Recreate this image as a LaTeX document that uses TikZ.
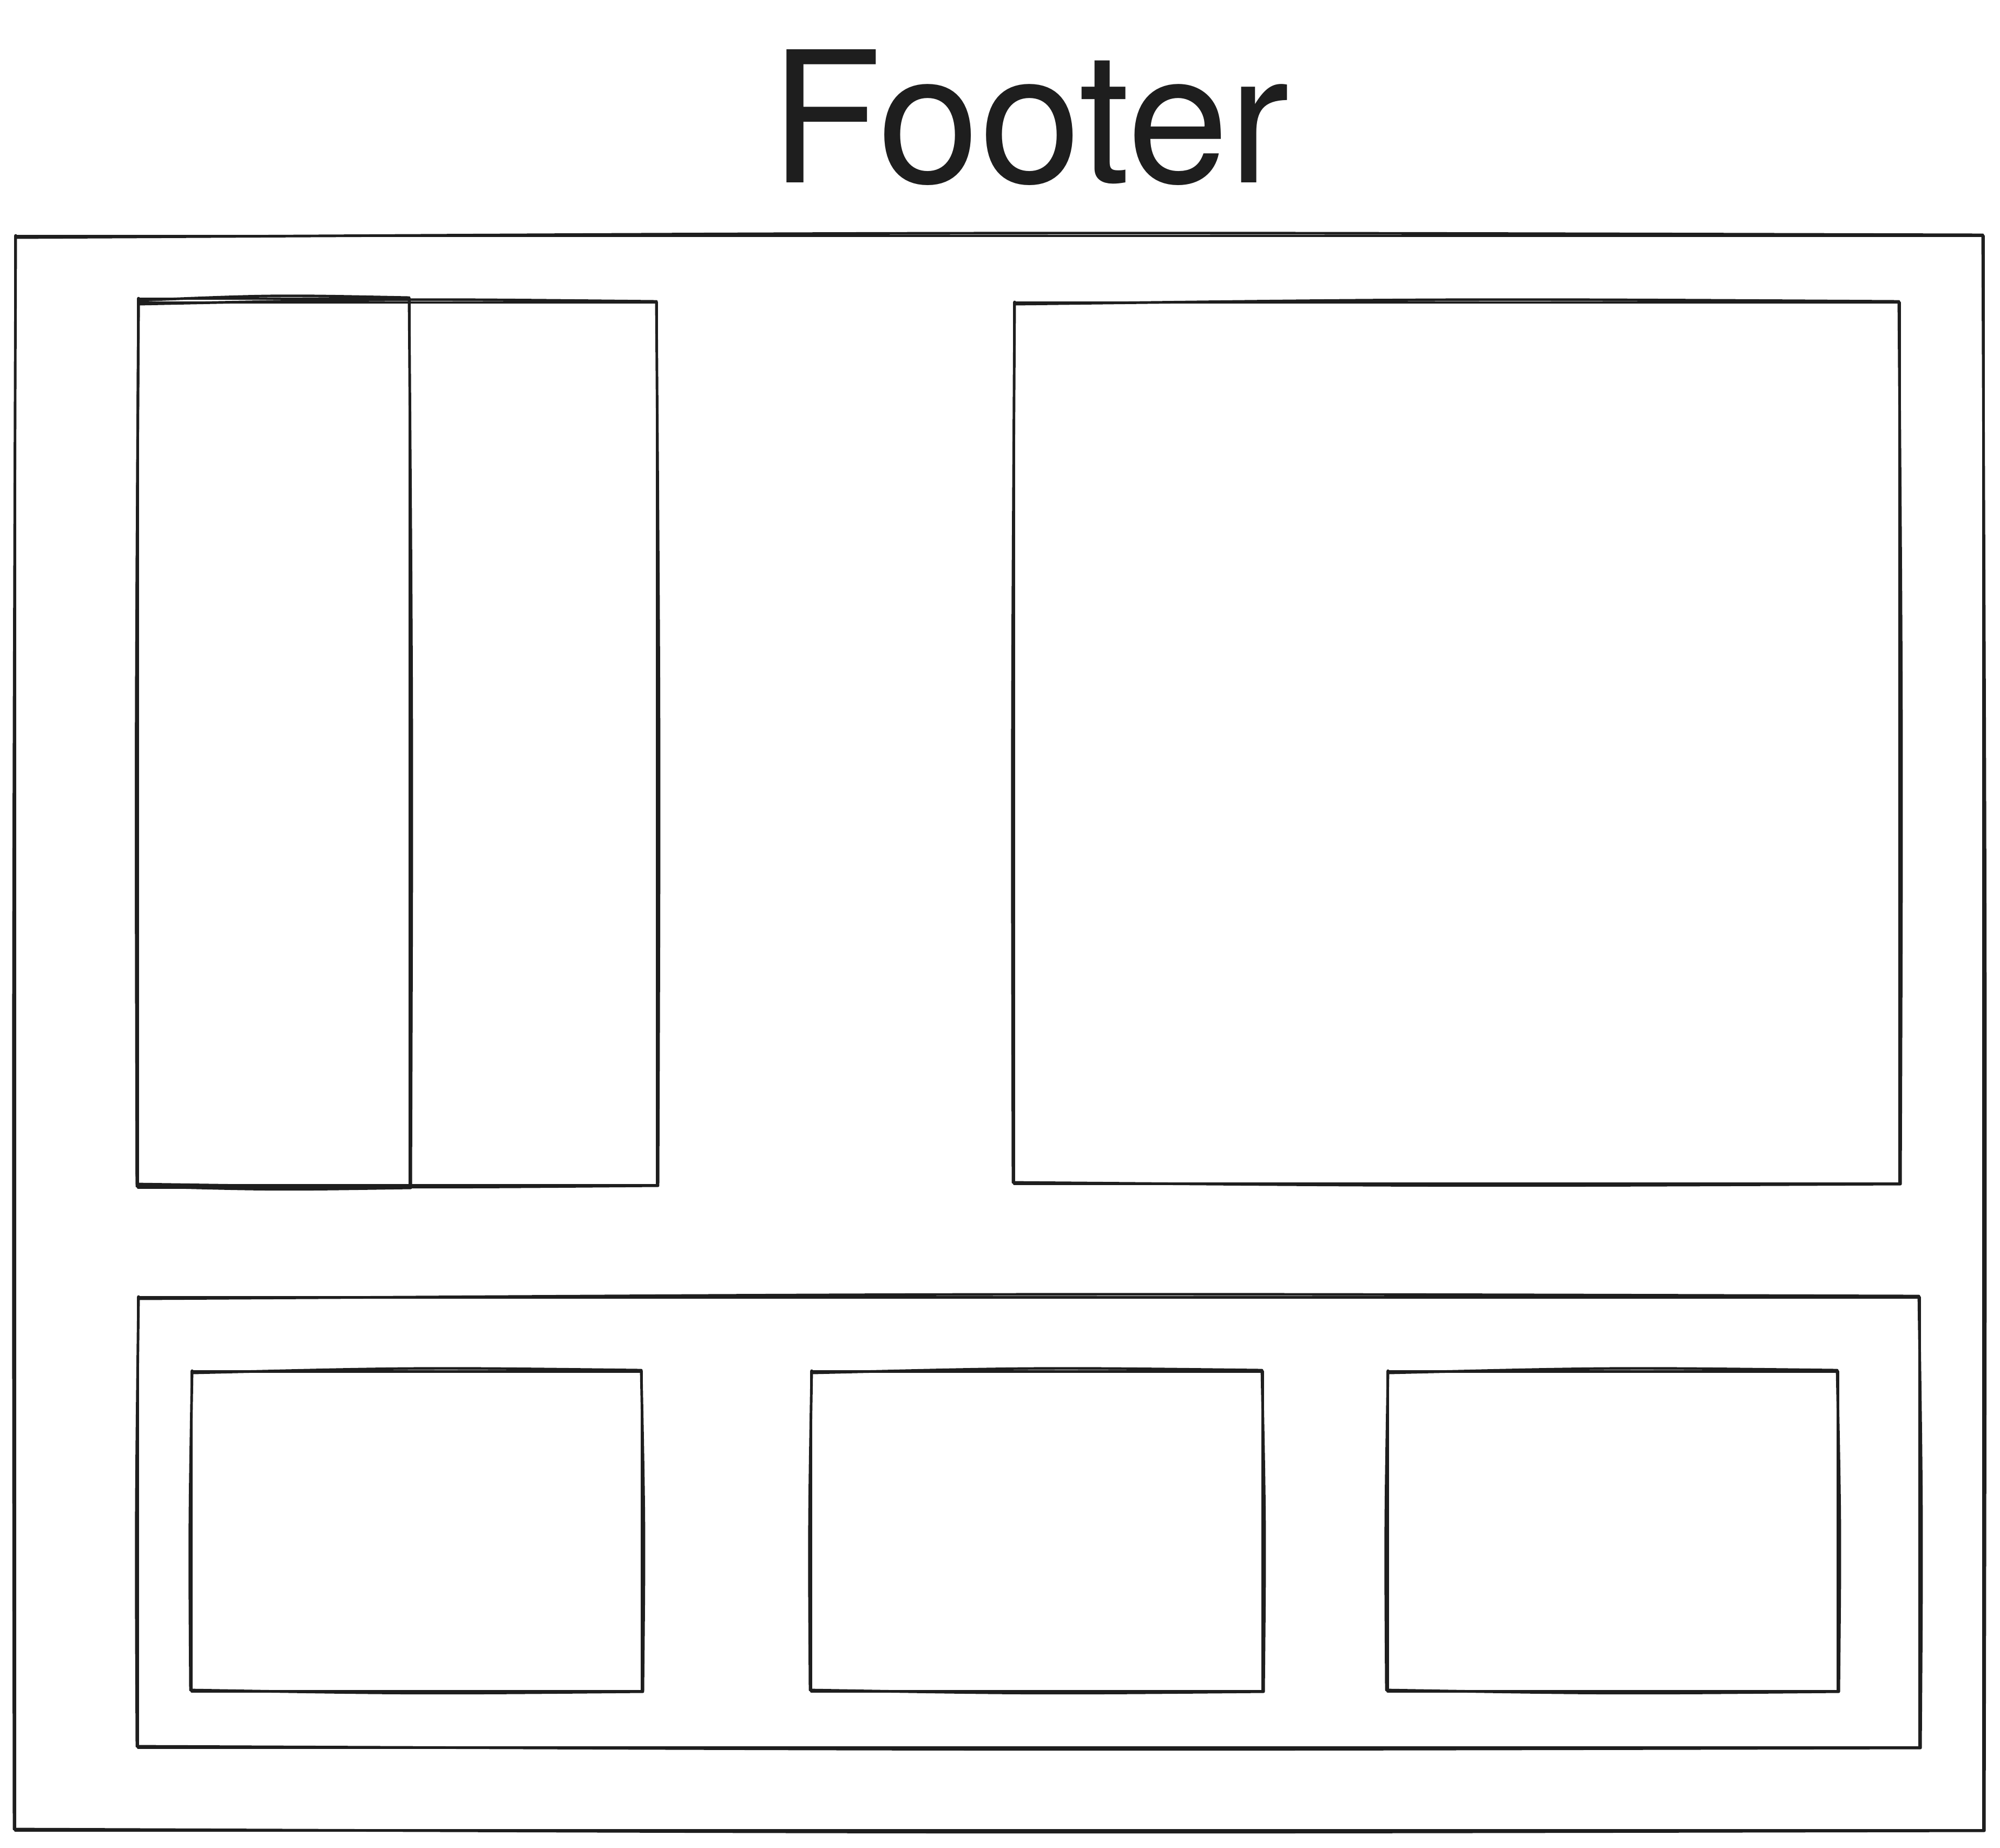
\documentclass[tikz,border=0pt]{standalone}
\usepackage{fontspec}
\newfontfamily\titlefont{TeX Gyre Heros}
\usepackage{tikz}
\usetikzlibrary{calc}
\definecolor{ink}{HTML}{1E1E1E}
\tikzset{
  sketch/.style={draw=ink, line width=1.4pt, line join=round, line cap=round},
  heading/.style={text=ink, font=\titlefont\fontsize{96}{110}\selectfont, anchor=base, inner sep=0pt}
}
% hand drawn box: two slightly different strokes (left, top, right, bottom; y downwards)
\newcommand{\sketchbox}[4]{%
  \draw[sketch] (#1,-#2) -- (#3,-#2) -- (#3,-#4) -- (#1,-#4) -- cycle;
  \draw[sketch] (#1+0.02,-#2-0.03) .. controls ({(#1+#3)/2},-#2+0.07) .. (#3-0.01,-#2+0.02)
    .. controls (#3+0.05,{-(#2+#4)/2}) .. (#3+0.02,-#4-0.01)
    .. controls ({(#1+#3)/2},-#4-0.05) .. (#1-0.02,-#4+0.02)
    .. controls (#1-0.04,{-(#2+#4)/2}) .. (#1+0.01,-#2+0.01);
}

\begin{document}
\begin{tikzpicture}
\useasboundingbox (0,0) rectangle (36.96,-34.14);
\node[heading] (footer) at (19.03,-3.37) {Footer};
% outer frame
\sketchbox{0.28}{4.36}{36.65}{33.82}
% top row
\sketchbox{2.55}{5.59}{12.14}{21.90}
\sketchbox{2.55}{5.52}{7.57}{21.94}
\sketchbox{18.74}{5.59}{35.10}{21.87}
% bottom row
\sketchbox{2.55}{23.97}{35.47}{32.29}
\sketchbox{3.54}{25.34}{11.86}{31.25}
\sketchbox{14.99}{25.34}{23.33}{31.25}
\sketchbox{25.64}{25.34}{33.96}{31.25}
\end{tikzpicture}
\end{document}
